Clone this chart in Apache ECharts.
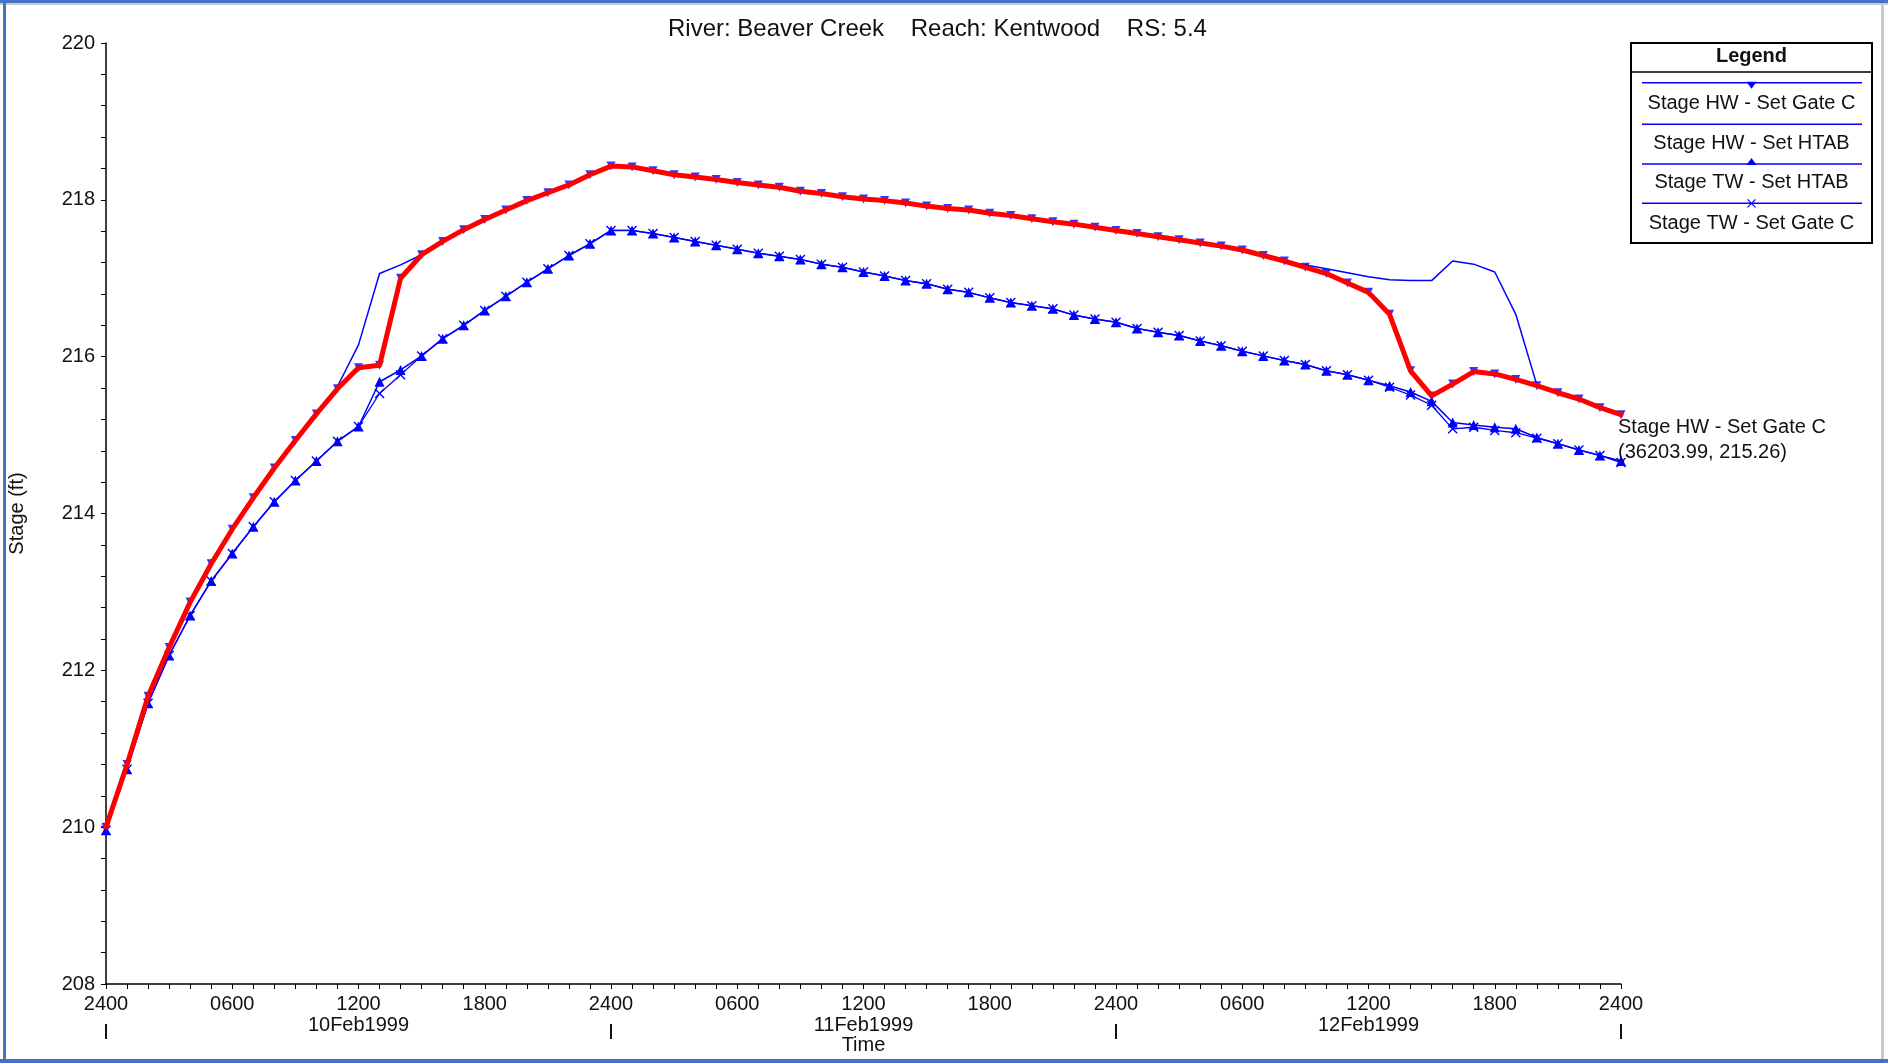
<!DOCTYPE html>
<html><head><meta charset="utf-8">
<script src="https://cdn.jsdelivr.net/npm/echarts@6/dist/echarts.min.js"></script>
<style>
html,body{margin:0;padding:0;background:#fff;}
#wrap{position:relative;width:1888px;height:1063px;overflow:hidden;background:#fff;}
#chart{position:absolute;left:0;top:0;width:1888px;height:1063px;}
.fr{position:absolute;}
</style></head><body>
<div id="wrap">
<div id="chart"></div>
<div class="fr" style="left:0;top:0;width:1888px;height:3px;background:#4472c4"></div>
<div class="fr" style="left:0;top:3px;width:1888px;height:2px;background:#c8c8c8"></div>
<div class="fr" style="left:3px;top:0;width:3px;height:1063px;background:#4472c4"></div>
<div class="fr" style="left:0;top:1059px;width:1888px;height:4px;background:#4472c4"></div>
<div class="fr" style="left:1881px;top:5px;width:3px;height:1054px;background:#c8c8c8"></div>
</div>
<script>
const TITLE = 'River: Beaver Creek    Reach: Kentwood    RS: 5.4';
const SERIES_NAMES = ['Stage HW - Set Gate C', 'Stage HW - Set HTAB', 'Stage TW - Set HTAB', 'Stage TW - Set Gate C'];
const DAY_LABELS = ['10Feb1999', '11Feb1999', '12Feb1999'];
const END_X_TEXT = '36203.99';

const HOURS = [0,1,2,3,4,5,6,7,8,9,10,11,12,13,14,15,16,17,18,19,20,21,22,23,24,25,26,27,28,29,30,31,32,33,34,35,36,
  37,38,39,40,41,42,43,44,45,46,47,48,49,50,51,52,53,54,55,56,57,58,59,60,61,62,63,64,65,66,67,68,69,70,71,72];

const HW_GATE_C = [210.00,210.80,211.67,212.29,212.87,213.36,213.80,214.20,214.58,214.93,215.27,215.59,215.86,215.89,
  217.00,217.30,217.47,217.62,217.75,217.87,217.99,218.09,218.19,218.32,218.43,218.42,218.37,218.32,218.29,218.26,
  218.22,218.19,218.16,218.11,218.08,218.04,218.01,217.99,217.96,217.92,217.89,217.87,217.83,217.80,217.76,217.72,
  217.69,217.65,217.61,217.57,217.53,217.49,217.45,217.41,217.36,217.29,217.22,217.14,217.06,216.94,216.82,216.54,
  215.82,215.50,215.65,215.81,215.78,215.71,215.63,215.54,215.46,215.35,215.26];

const HW_HTAB = [210.00,210.80,211.67,212.29,212.87,213.36,213.80,214.20,214.58,214.93,215.27,215.62,216.15,217.06,
  217.17,217.30,217.47,217.62,217.75,217.87,217.99,218.09,218.19,218.32,218.43,218.42,218.37,218.32,218.29,218.26,
  218.22,218.19,218.16,218.11,218.08,218.04,218.01,217.99,217.96,217.92,217.89,217.87,217.83,217.80,217.76,217.72,
  217.69,217.65,217.61,217.57,217.53,217.49,217.45,217.41,217.36,217.29,217.22,217.17,217.12,217.07,217.02,216.98,
  216.97,216.97,217.22,217.18,217.08,216.54,215.64,215.54,215.46,215.35,215.26];

const TW_HTAB = [209.96,210.74,211.58,212.19,212.70,213.14,213.49,213.83,214.15,214.42,214.67,214.92,215.11,215.68,
  215.83,216.01,216.23,216.40,216.59,216.77,216.95,217.12,217.29,217.44,217.61,217.61,217.57,217.52,217.47,217.42,
  217.37,217.32,217.28,217.24,217.18,217.14,217.08,217.03,216.97,216.93,216.86,216.82,216.75,216.69,216.65,216.61,
  216.53,216.48,216.44,216.36,216.31,216.27,216.20,216.14,216.07,216.01,215.95,215.90,215.82,215.77,215.70,215.63,
  215.55,215.43,215.16,215.13,215.10,215.08,214.97,214.89,214.81,214.74,214.67];

const TW_GATE_C = [209.96,210.74,211.58,212.19,212.70,213.14,213.49,213.83,214.15,214.42,214.67,214.92,215.11,215.53,
  215.77,216.01,216.23,216.40,216.59,216.77,216.95,217.12,217.29,217.44,217.61,217.61,217.57,217.52,217.47,217.42,
  217.37,217.32,217.28,217.24,217.18,217.14,217.08,217.03,216.97,216.93,216.86,216.82,216.75,216.69,216.65,216.61,
  216.53,216.48,216.44,216.36,216.31,216.27,216.20,216.14,216.07,216.01,215.95,215.90,215.82,215.77,215.70,215.61,
  215.51,215.38,215.08,215.10,215.06,215.03,214.96,214.89,214.81,214.74,214.65];

const FONT = '"Liberation Sans", Arial, sans-serif';
const BLUE = '#0000ff';
const RED = '#ff0000';
const TXT = '#111';
const X_SYMBOL = 'path://M0,1 L1,0 L5,4 L9,0 L10,1 L6,5 L10,9 L9,10 L5,6 L1,10 L0,9 L4,5 Z';

const pair = arr => HOURS.map((h, i) => [h, arr[i]]);

const chart = echarts.init(document.getElementById('chart'), null, {renderer: 'canvas'});

// legend drawn as boxed list (line above text), like the source program
const LG = {x: 1631, y: 43, w: 241, h: 200, head: 72, lineY: [82.7, 124.3, 164, 203.3], textY: [103.3, 143.3, 182.7, 223.3]};
const lgCx = LG.x + LG.w / 2;
const legendEls = [
  {type: 'rect', shape: {x: LG.x, y: LG.y, width: LG.w, height: LG.h}, style: {fill: '#fff', stroke: '#000', lineWidth: 2}},
  {type: 'line', shape: {x1: LG.x, y1: LG.head, x2: LG.x + LG.w, y2: LG.head}, style: {stroke: '#000', lineWidth: 1.5}},
  {type: 'text', x: lgCx, y: 56, style: {text: 'Legend', font: 'bold 20px ' + FONT, fill: TXT, align: 'center', verticalAlign: 'middle'}}
];
SERIES_NAMES.forEach((n, i) => {
  legendEls.push({type: 'line', shape: {x1: 1642, y1: LG.lineY[i], x2: 1862, y2: LG.lineY[i]}, style: {stroke: BLUE, lineWidth: 1.5}});
  legendEls.push({type: 'text', x: lgCx, y: LG.textY[i], style: {text: n, font: '20px ' + FONT, fill: TXT, align: 'center', verticalAlign: 'middle'}});
});
const my = LG.lineY;
legendEls.push({type: 'polygon', shape: {points: [[lgCx - 5, my[0] - 1], [lgCx + 5, my[0] - 1], [lgCx, my[0] + 6]]}, style: {fill: BLUE}});
legendEls.push({type: 'polygon', shape: {points: [[lgCx - 5, my[2] + 1], [lgCx + 5, my[2] + 1], [lgCx, my[2] - 6]]}, style: {fill: BLUE}});
legendEls.push({type: 'line', shape: {x1: lgCx - 4, y1: my[3] - 4, x2: lgCx + 4, y2: my[3] + 4}, style: {stroke: BLUE, lineWidth: 1.2}});
legendEls.push({type: 'line', shape: {x1: lgCx + 4, y1: my[3] - 4, x2: lgCx - 4, y2: my[3] + 4}, style: {stroke: BLUE, lineWidth: 1.2}});

const option = {
  animation: false,
  backgroundColor: 'transparent',
  textStyle: {fontFamily: FONT},
  title: {
    text: TITLE, left: 668, top: 17, padding: 0,
    textStyle: {fontSize: 24, fontWeight: 'normal', color: TXT, fontFamily: FONT}
  },
  grid: {left: 106, right: 267, top: 43, bottom: 79, containLabel: false, outerBoundsMode: 'none'},
  xAxis: {
    type: 'value', min: 0, max: 72, interval: 6,
    name: 'Time', nameLocation: 'middle', nameGap: 51, nameMoveOverlap: false,
    nameTextStyle: {fontSize: 20, color: TXT, fontFamily: FONT},
    axisLine: {show: true, onZero: false, lineStyle: {color: '#000', width: 1.5}},
    axisTick: {show: true, length: 5, lineStyle: {color: '#000', width: 1}},
    minorTick: {show: true, splitNumber: 6, length: 5, lineStyle: {color: '#000', width: 1}},
    splitLine: {show: false},
    axisLabel: {
      show: true, margin: 10, fontSize: 20, lineHeight: 21, color: TXT, fontFamily: FONT,
      showMinLabel: true, showMaxLabel: true,
      formatter: function (v) {
        const hv = Math.round(v);
        const h = hv % 24;
        const d = Math.floor(hv / 24);
        const t = h === 0 ? '2400' : (h < 10 ? '0' : '') + h + '00';
        if (h === 12) return t + '\n{date|' + DAY_LABELS[d] + '}';
        if (h === 0) return t + '\n{sep||}';
        return t;
      },
      rich: {
        date: {fontSize: 20, lineHeight: 21, color: TXT, fontFamily: FONT},
        sep: {fontSize: 16, lineHeight: 33, color: TXT, fontWeight: 'bold', fontFamily: FONT}
      }
    }
  },
  yAxis: {
    type: 'value', min: 208, max: 220, interval: 2,
    name: 'Stage (ft)', nameLocation: 'middle', nameGap: 79, nameMoveOverlap: false,
    nameTextStyle: {fontSize: 20, color: TXT, fontFamily: FONT},
    axisLine: {show: true, onZero: false, lineStyle: {color: '#000', width: 1.5}},
    axisTick: {show: true, length: 5, lineStyle: {color: '#000', width: 1}},
    minorTick: {show: true, splitNumber: 5, length: 5, lineStyle: {color: '#000', width: 1}},
    splitLine: {show: false},
    axisLabel: {show: true, margin: 11, fontSize: 20, color: TXT, fontFamily: FONT, padding: [11, 0, 0, 0]}
  },
  graphic: {elements: legendEls},
  series: [
    {
      name: SERIES_NAMES[3], type: 'line', data: pair(TW_GATE_C), z: 2,
      showAllSymbol: true, symbol: X_SYMBOL, symbolSize: 10,
      lineStyle: {color: BLUE, width: 1.3}, itemStyle: {color: BLUE}
    },
    {
      name: SERIES_NAMES[2], type: 'line', data: pair(TW_HTAB), z: 3,
      showAllSymbol: true, symbol: 'triangle', symbolSize: 10,
      lineStyle: {color: BLUE, width: 1.5}, itemStyle: {color: BLUE}
    },
    {
      name: SERIES_NAMES[1], type: 'line', data: pair(HW_HTAB), z: 4,
      symbol: 'none', lineStyle: {color: BLUE, width: 1.5}
    },
    {
      name: SERIES_NAMES[0] + ' markers', type: 'scatter', data: pair(HW_GATE_C), z: 5,
      symbol: 'triangle', symbolRotate: 180, symbolSize: 9, itemStyle: {color: BLUE}
    },
    {
      name: SERIES_NAMES[0], type: 'line', data: pair(HW_GATE_C), z: 6,
      symbol: 'none', lineStyle: {color: RED, width: 5, join: 'round', cap: 'round'},
      endLabel: {
        show: true, distance: -3, align: 'left', verticalAlign: 'top',
        fontSize: 20, lineHeight: 24.5, color: TXT, fontFamily: FONT, padding: [1, 0, 0, 0],
        formatter: function (p) {
          return SERIES_NAMES[0] + '\n(' + END_X_TEXT + ', ' + p.value[1].toFixed(2) + ')';
        }
      }
    }
  ]
};
chart.setOption(option);
</script>
</body></html>
